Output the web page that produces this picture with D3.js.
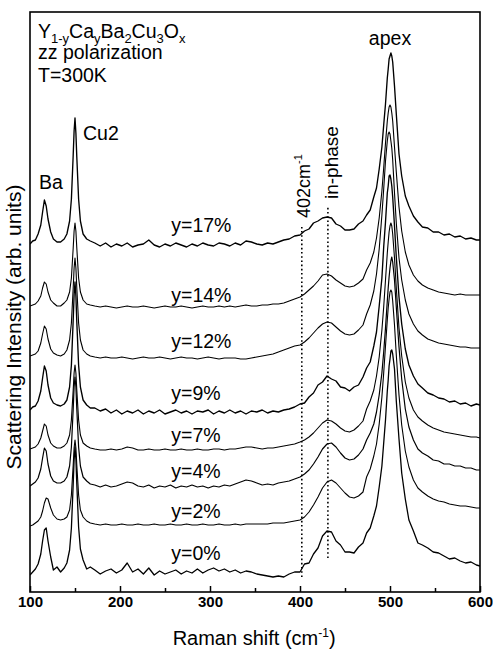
<!DOCTYPE html>
<html>
<head>
<meta charset="utf-8">
<script src="https://cdn.jsdelivr.net/npm/d3@7"></script>
<style>
  body { margin: 0; background: #fff; }
  svg { display: block; }
  text { font-family: "Liberation Sans", Arial, Helvetica, sans-serif; fill: #000; }
</style>
</head>
<body>
<svg id="chart" width="493" height="650"></svg>
<script>
// Raman shift sampling (cm^-1), shared by all spectra
const ramanShift = [
  100,103,106,109,112,114,116,118,120,123,126,130,134,138,141,144,146,148,149,150,151,152,154,156,159,163,167,
  172,178,184,190,196,202,208,214,220,226,232,238,244,250,256,262,268,274,280,286,292,298,304,310,316,322,328,334,340,346,352,358,364,370,376,382,388,394,
  400,405,410,415,420,425,430,435,440,445,450,455,460,465,470,
  474,478,482,485,488,491,493,495,497,498,499,500,501,502,503,505,507,510,513,517,521,526,531,
  536,542,548,554,560,566,572,578,584,590,596,600
];

// Scattering intensity (arb. units) for each Ca content y
const y17 = [
  1,4,5,11,20,33,45,39,26,13,6,3,3,6,11,24,46,90,114,127,112,88,46,24,11,6,4,
  2,-1,2,-2,1,-1,2,-2,0,1,5,0,-2,1,-1,2,0,-2,1,-1,2,0,-1,2,1,-1,2,0,4,3,1,0,2,1,3,5,6,9,
  10,14,16,22,24,27,28,27,21,19,15,15,16,21,24,
  30,35,48,57,76,98,120,141,167,176,186,189,192,189,183,159,131,91,69,49,39,29,23,
  18,17,13,13,10,11,8,9,6,7,5,5
];
const y14 = [
  1,2,3,6,11,19,25,23,15,7,4,1,1,4,7,15,29,59,76,84,76,59,29,15,7,3,2,
  1,0,1,0,-1,0,1,0,0,1,0,-1,0,1,0,0,1,0,-1,0,1,0,0,1,0,1,0,1,2,1,1,2,2,3,3,4,6,8,
  10,13,17,21,26,32,33,31,27,24,21,20,21,24,28,
  37,44,55,69,89,116,139,164,186,194,200,202,200,194,186,160,135,100,76,55,42,32,26,
  22,19,17,15,14,13,12,13,12,12,12,12
];
const y12 = [
  2,3,4,7,15,24,32,29,19,9,5,3,2,4,8,18,35,70,90,100,90,70,35,18,8,4,2,
  1,0,1,0,0,1,0,-1,0,1,0,0,1,0,-1,0,1,0,0,-1,0,1,0,-1,0,0,0,-1,-1,0,1,2,3,4,6,8,10,12,
  13,16,20,25,30,34,36,35,31,27,24,23,24,28,33,
  44,53,67,84,109,143,169,197,217,224,226,224,217,210,198,165,135,100,78,58,44,34,27,
  23,19,17,15,14,13,12,11,11,10,10,10
];
const y9 = [
  2,5,6,11,21,34,46,41,27,14,9,7,6,8,12,25,47,92,117,130,116,90,47,25,12,7,4,
  4,1,3,-1,2,-2,1,-1,2,-2,1,-1,2,-2,0,2,-1,1,-2,1,0,2,-2,1,-1,2,-1,1,-2,1,0,2,-1,1,0,2,3,5,
  8,9,15,19,27,30,36,33,31,25,24,21,25,27,35,
  44,50,66,80,106,134,165,190,219,226,236,237,233,226,215,186,155,115,88,63,47,36,28,
  24,19,17,14,13,10,11,8,9,6,8,7
];
const y7 = [
  1,2,3,6,12,19,26,24,15,7,4,2,2,4,7,15,30,60,77,85,77,60,30,15,7,4,2,
  1,0,0,1,0,1,3,2,0,0,1,0,0,1,0,0,1,0,0,1,0,0,1,1,0,1,1,2,3,3,2,1,2,2,3,4,5,6,
  8,10,13,17,22,27,30,29,26,22,19,18,20,24,29,
  41,49,60,74,93,120,143,170,197,208,218,224,227,224,216,192,162,122,94,68,52,40,33,
  29,25,22,20,18,17,16,15,14,13,13,12
];
const y4 = [
  1,3,5,9,18,29,39,36,23,11,6,4,4,6,10,21,40,78,100,110,100,78,40,21,10,6,3,
  2,0,2,0,1,3,5,4,1,0,2,-1,1,0,2,-1,1,0,2,0,1,-1,1,0,2,1,3,5,7,6,4,2,3,2,4,5,6,8,
  10,13,17,23,30,38,43,44,40,34,29,27,28,32,38,
  47,54,63,75,92,114,135,159,186,199,210,219,226,230,225,207,180,140,108,78,60,47,38,
  34,31,27,26,23,23,21,21,19,19,17,17
];
const y2 = [
  -1,0,2,4,8,14,22,27,26,17,10,6,5,6,8,15,30,60,77,85,77,60,30,15,8,4,2,
  1,0,1,0,0,1,0,0,1,0,0,1,0,0,1,0,0,1,0,0,1,0,0,1,0,0,1,0,1,1,1,1,1,2,2,2,3,4,
  5,8,13,20,28,37,43,45,42,37,32,28,27,29,33,
  48,56,69,81,101,128,152,179,205,217,226,233,235,233,224,200,170,130,100,74,58,45,37,
  33,29,26,24,23,21,20,19,19,18,17,17
];
const y0 = [
  -3,0,3,8,18,31,42,44,31,15,2,5,0,4,9,22,44,88,112,125,113,88,45,23,12,3,5,
  2,-2,1,3,-1,2,9,0,3,-2,4,-3,1,-2,0,2,-2,1,-1,3,-1,2,4,1,3,0,2,-1,1,0,-2,-3,-4,-5,-4,-5,-2,0,
  0,8,9,18,24,36,41,40,31,27,20,20,19,25,29,
  39,44,56,66,85,106,129,152,181,192,206,213,221,222,218,203,171,133,99,73,52,41,29,
  27,24,20,19,16,13,14,11,9,10,7,6
];

const sampleLabels = ["y=17%", "y=14%", "y=12%", "y=9%", "y=7%", "y=4%", "y=2%", "y=0%"];
const sampleSpectra = [y17, y14, y12, y9, y7, y4, y2, y0];
// vertical stacking offset of each spectrum (arb. units)
const stackOffsets = [347, 285, 234, 180, 142, 105, 67, 20];

const xTicks = [100, 200, 300, 400, 500, 600];
const xMinorTicks = [150, 250, 350, 450, 550];

// reference lines: mode position and vertical extent (arb. units)
const guideShifts = [402, 431];
const guideFrom = [15, 34];
const guideTo = [365, 385];

// ---- layout / style ----
const W = 493, H = 650;
const M = { left: 30, top: 12, right: 13, bottom: 58 };
const plotW = W - M.left - M.right;   // 450
const plotH = H - M.top - M.bottom;   // 580
const labelLift = [13, 5, 10, 12, 8, 9, 7, 12];
const strokeW = [1.35, 1.1, 1.1, 1.35, 1.1, 1.2, 1.1, 1.3];

const svg = d3.select("#chart");
const x = d3.scaleLinear().domain([100, 600]).range([M.left, M.left + plotW]);
const y = d3.scaleLinear().domain([0, 580]).range([M.top + plotH, M.top]);

svg.append("defs").append("clipPath").attr("id", "plotClip")
  .append("rect").attr("x", M.left).attr("y", M.top).attr("width", plotW).attr("height", plotH);

const plot = svg.append("g").attr("clip-path", "url(#plotClip)");

// dotted guides for the 402 cm^-1 and in-phase modes
guideShifts.forEach((s, i) => {
  plot.append("line")
    .attr("x1", x(s)).attr("x2", x(s))
    .attr("y1", y(guideFrom[i])).attr("y2", y(guideTo[i]))
    .attr("stroke", "#000").attr("stroke-width", 1.6)
    .attr("stroke-dasharray", "1.6,2.6");
});

// spectra
sampleSpectra.forEach((vals, k) => {
  const line = d3.line()
    .x((d, i) => x(ramanShift[i]))
    .y(d => y(d + stackOffsets[k]))
    .curve(d3.curveLinear);
  plot.append("path")
    .datum(vals)
    .attr("fill", "none")
    .attr("stroke", "#000")
    .attr("stroke-width", strokeW[k])
    .attr("stroke-linejoin", "round")
    .attr("d", line);
});

// sample labels
sampleLabels.forEach((lab, k) => {
  svg.append("text")
    .attr("x", x(257))
    .attr("y", y(stackOffsets[k]) - labelLift[k])
    .attr("font-size", 19.5)
    .text(lab);
});

// frame
svg.append("rect")
  .attr("x", M.left).attr("y", M.top).attr("width", plotW).attr("height", plotH)
  .attr("fill", "none").attr("stroke", "#000").attr("stroke-width", 1.6);

// bottom axis with inward ticks
const xAxis = d3.axisBottom(x).tickValues(xTicks).tickSize(-6).tickPadding(4).tickFormat(d3.format("d"));
const gx = svg.append("g").attr("transform", `translate(0,${M.top + plotH})`).call(xAxis);
gx.select(".domain").remove();
gx.selectAll(".tick line").attr("stroke", "#000").attr("stroke-width", 1.5);
gx.selectAll(".tick text")
  .attr("font-size", 15).attr("font-weight", "bold")
  .attr("font-family", "Liberation Sans, Arial, sans-serif").attr("fill", "#000");

const xMinor = d3.axisBottom(x).tickValues(xMinorTicks).tickSize(-4).tickFormat("");
const gm = svg.append("g").attr("transform", `translate(0,${M.top + plotH})`).call(xMinor);
gm.select(".domain").remove();
gm.selectAll(".tick line").attr("stroke", "#000").attr("stroke-width", 1.5);

// axis titles
const xt = svg.append("text")
  .attr("x", x(349)).attr("y", 645)
  .attr("text-anchor", "middle").attr("font-size", 20);
xt.append("tspan").text("Raman shift (cm");
xt.append("tspan").attr("font-size", 12).attr("dy", -8).text("-1");
xt.append("tspan").attr("dy", 8).text(")");

svg.append("text")
  .attr("transform", `translate(21,${y(265)}) rotate(-90)`)
  .attr("text-anchor", "middle").attr("font-size", 21)
  .text("Scattering Intensity (arb. units)");

// composition / conditions
const t1 = svg.append("text").attr("x", 38).attr("y", 38).attr("font-size", 19.5);
[["Y", 0], ["1-y", 1], ["Ca", 0], ["y", 1], ["Ba", 0], ["2", 1], ["Cu", 0], ["3", 1], ["O", 0], ["x", 1]]
  .forEach(([s, sub], i, arr) => {
    const prevSub = i > 0 ? arr[i - 1][1] : 0;
    const dy = sub && !prevSub ? 5 : (!sub && prevSub ? -5 : 0);
    t1.append("tspan").attr("font-size", sub ? 13 : 19.5).attr("dy", dy).text(s);
  });
svg.append("text").attr("x", 38).attr("y", 59).attr("font-size", 19.5).text("zz polarization");
svg.append("text").attr("x", 38).attr("y", 82).attr("font-size", 19.5).text("T=300K");

// peak names
svg.append("text").attr("x", 39).attr("y", 189).attr("font-size", 19.5).text("Ba");
svg.append("text").attr("x", 83).attr("y", 140).attr("font-size", 19.5).text("Cu2");
svg.append("text").attr("x", x(500)).attr("y", 45).attr("text-anchor", "middle").attr("font-size", 19.5).text("apex");

const t402 = svg.append("text")
  .attr("transform", `translate(${x(402) + 8},218) rotate(-90)`)
  .attr("font-size", 18);
t402.append("tspan").text("402cm");
t402.append("tspan").attr("font-size", 11).attr("dy", -8).text("-1");

svg.append("text")
  .attr("transform", `translate(${x(431) + 10},199) rotate(-90)`)
  .attr("font-size", 19)
  .text("in-phase");
</script>
</body>
</html>
